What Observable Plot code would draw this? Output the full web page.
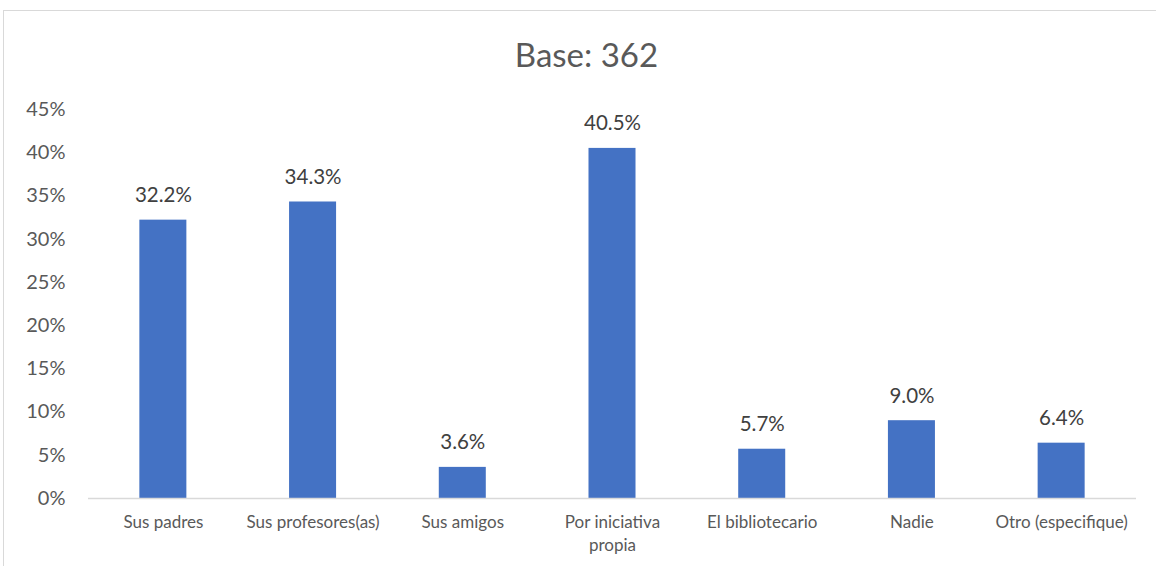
<!DOCTYPE html>
<html>
<head>
<meta charset="utf-8">
<script src="https://cdn.jsdelivr.net/npm/d3@7"></script>
<script src="https://cdn.jsdelivr.net/npm/@observablehq/plot@0.6"></script>
<style>
  html, body { margin: 0; padding: 0; background: #fff; }
  body { width: 1156px; height: 566px; position: relative; overflow: hidden; font-family: Lato, "Open Sans", sans-serif; }
  #frame { position: absolute; left: 3px; top: 10px; width: 1200px; height: 600px; border-left: 1px solid #d9d9d9; border-top: 1px solid #d9d9d9; box-sizing: border-box; }
  #title { position: absolute; left: 0; width: 1173px; top: 34px; text-align: center; font-size: 33px; color: #595959; line-height: 40px; }
  #chart { position: absolute; left: 0; top: 0; }
</style>
</head>
<body>
<div id="frame"></div>
<div id="title">Base: 362</div>
<div id="chart"></div>
<script>
const categories = ["Sus padres", "Sus profesores(as)", "Sus amigos", "Por iniciativa propia", "El bibliotecario", "Nadie", "Otro (especifique)"];
const values = [32.2, 34.3, 3.6, 40.5, 5.7, 9.0, 6.4];
const tickLabels = ["Sus padres", "Sus profesores(as)", "Sus amigos", "Por iniciativa\npropia", "El bibliotecario", "Nadie", "Otro (especifique)"];
const yTicks = [0, 5, 10, 15, 20, 25, 30, 35, 40, 45];

const data = categories.map((c, i) => ({category: c, value: values[i]}));

const chart = Plot.plot({
  width: 1156,
  height: 566,
  marginLeft: 88,
  marginRight: 20,
  marginTop: 109,
  marginBottom: 68,
  style: {fontFamily: "Lato, 'Open Sans', sans-serif", background: "transparent", overflow: "visible"},
  x: {domain: categories, paddingInner: 0.686, paddingOuter: 0.343, align: 0.5, round: false, label: null},
  y: {domain: [0, 45], label: null},
  marks: [
    Plot.axisY({ticks: yTicks, tickFormat: d => d + "%", tickSize: 0, tickPadding: 23, fontSize: 20, color: "#595959", label: null}),
    Plot.axisX({tickSize: 0, tickPadding: 13, fontSize: 17, color: "#595959", lineHeight: 1.35,
      tickFormat: d => tickLabels[categories.indexOf(d)], label: null}),
    Plot.barY(data, {x: "category", y: "value", fill: "#4472C4"}),
    Plot.ruleY([0], {stroke: "#d9d9d9", strokeWidth: 1.5}),
    Plot.text(data, {x: "category", y: "value", text: d => d.value.toFixed(1) + "%", lineAnchor: "bottom", dy: -18, fontSize: 20.5, fill: "#404040"})
  ]
});
document.getElementById("chart").appendChild(chart);
</script>
</body>
</html>
